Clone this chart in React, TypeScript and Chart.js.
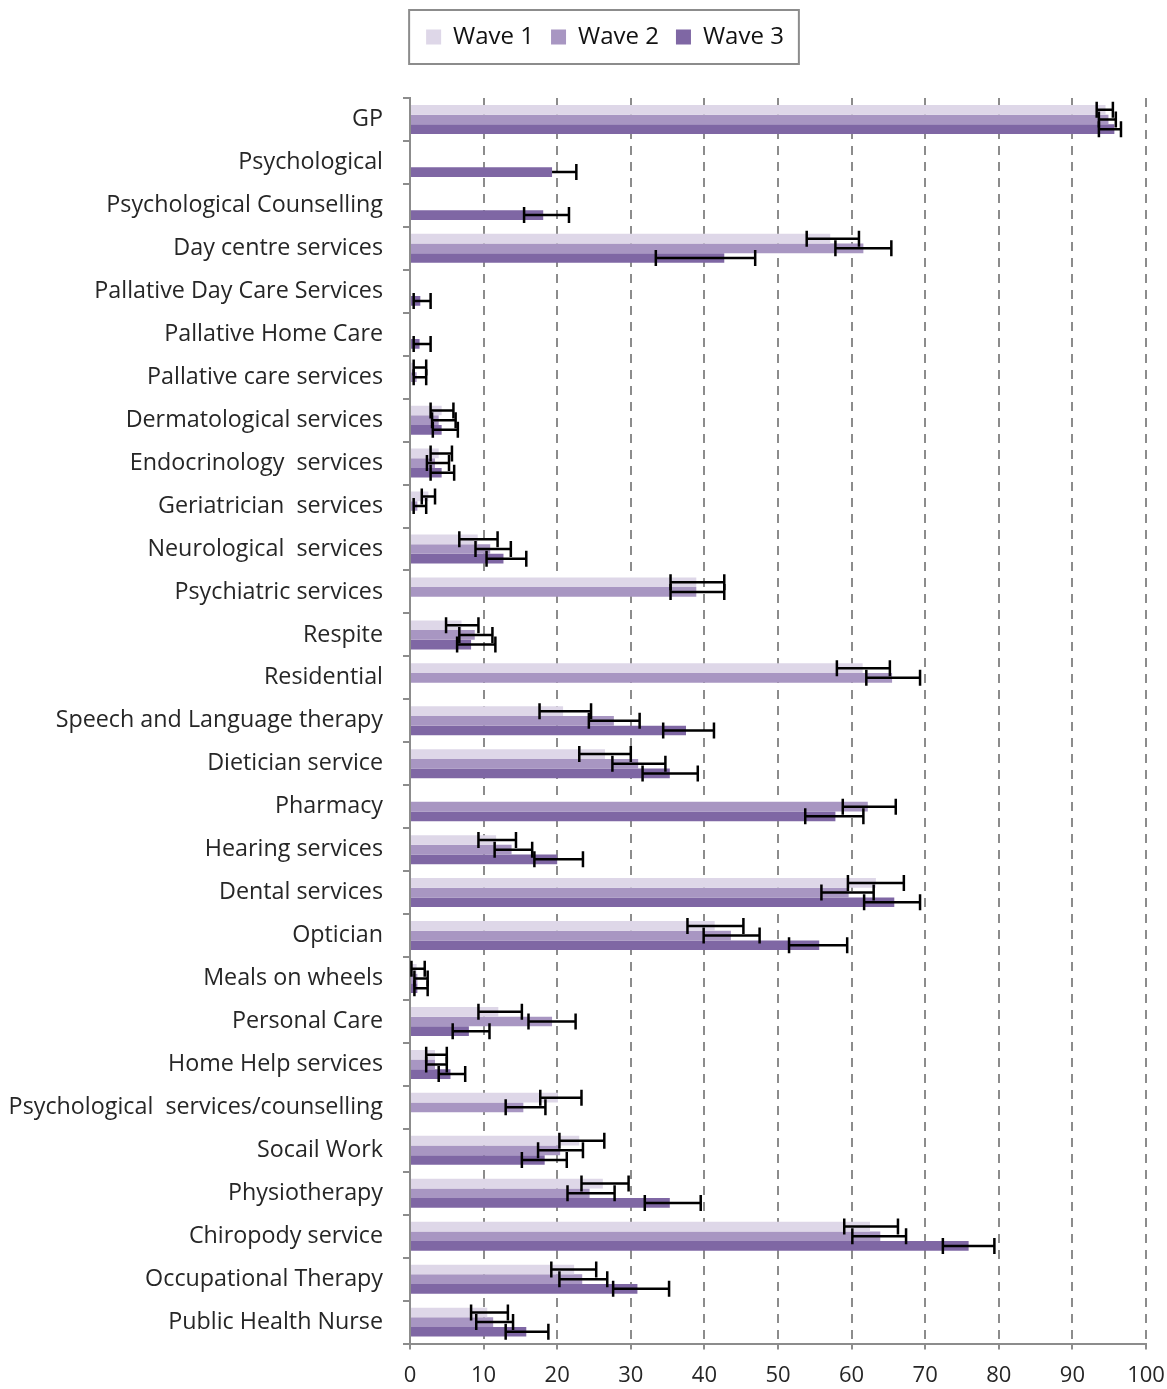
import React, { useEffect, useRef } from "react";
import { Chart, registerables } from "chart.js";

Chart.register(...registerables);

const categories = [
  "GP",
  "Psychological",
  "Psychological Counselling",
  "Day centre services",
  "Pallative Day Care Services",
  "Pallative Home Care",
  "Pallative care services",
  "Dermatological services",
  "Endocrinology  services",
  "Geriatrician  services",
  "Neurological  services",
  "Psychiatric services",
  "Respite",
  "Residential",
  "Speech and Language therapy",
  "Dietician service",
  "Pharmacy",
  "Hearing services",
  "Dental services",
  "Optician",
  "Meals on wheels",
  "Personal Care",
  "Home Help services",
  "Psychological  services/counselling",
  "Socail Work",
  "Physiotherapy",
  "Chiropody service",
  "Occupational Therapy",
  "Public Health Nurse",
];

const seriesNames = ["Wave 1", "Wave 2", "Wave 3"];

const wave1 = [94.5, null, null, 57.1, null, null, 0.6, 4.3, 3.9, 2.5, 9.2, 38.9, 7.0, 61.5, 20.8, 26.5, null, 11.7, 63.3, 41.4, 0.9, 12.0, 3.4, 20.1, 23.0, 26.2, 62.5, 22.3, 10.5];
const wave1Low = [93.3, null, null, 53.9, null, null, 0.5, 2.8, 2.8, 1.6, 6.7, 35.4, 4.9, 58.0, 17.6, 23.0, null, 9.3, 59.5, 37.7, 0.2, 9.3, 2.2, 17.7, 20.3, 23.3, 59.0, 19.2, 8.3];
const wave1High = [95.5, null, null, 61.0, null, null, 2.2, 5.9, 5.7, 3.4, 11.9, 42.7, 9.3, 65.2, 24.6, 30.0, null, 14.4, 67.1, 45.3, 2.0, 15.2, 5.0, 23.3, 26.4, 29.7, 66.3, 25.3, 13.3];

const wave2 = [94.9, null, null, 61.6, null, null, 0.9, 3.9, 3.4, 1.0, 10.9, 38.9, 8.8, 65.5, 27.7, 31.0, 62.2, 13.8, 59.6, 43.6, 1.0, 19.3, 3.4, 15.4, 20.4, 24.4, 63.9, 23.4, 11.3];
const wave2Low = [93.6, null, null, 57.8, null, null, 0.5, 3.0, 2.3, 0.5, 8.9, 35.4, 6.7, 62.0, 24.3, 27.5, 58.8, 11.5, 55.9, 39.9, 0.6, 16.1, 2.2, 13.0, 17.4, 21.4, 60.1, 20.3, 9.0];
const wave2High = [95.9, null, null, 65.4, null, null, 2.2, 6.2, 5.3, 2.2, 13.7, 42.7, 11.2, 69.3, 31.2, 34.7, 66.0, 16.6, 63.0, 47.5, 2.4, 22.5, 5.0, 18.4, 23.5, 27.8, 67.4, 26.8, 14.0];

const wave3 = [95.7, 19.3, 18.1, 42.7, 1.4, 1.3, null, 4.3, 4.3, null, 12.7, null, 8.3, null, 37.5, 35.3, 57.8, 20.0, 65.8, 55.6, 1.0, 8.0, 5.5, null, 18.3, 35.3, 75.9, 30.9, 15.8];
const wave3Low = [93.6, 19.3, 15.5, 33.4, 0.5, 0.5, null, 3.1, 2.8, null, 10.4, null, 6.4, null, 34.4, 31.6, 53.7, 16.9, 61.7, 51.5, 0.6, 5.8, 3.9, null, 15.2, 31.9, 72.4, 27.6, 13.0];
const wave3High = [96.6, 22.6, 21.6, 46.9, 2.8, 2.8, null, 6.5, 6.0, null, 15.8, null, 11.6, null, 41.3, 39.1, 61.6, 23.5, 69.3, 59.4, 2.4, 10.8, 7.5, null, 21.3, 39.5, 79.4, 35.2, 18.8];

const xMin = 0;
const xMax = 100;
const xStep = 10;

const colors = ["#ded7e8", "#a896c2", "#7f67a4"];
const FONT = "'Open Sans', 'Noto Sans', sans-serif";

const errorBarPlugin = {
  id: "errorBars",
  afterDatasetsDraw(chart: any) {
    const ctx = chart.ctx;
    const xs = chart.scales.x;
    const cap = 8;
    chart.data.datasets.forEach((ds: any, i: number) => {
      const meta = chart.getDatasetMeta(i);
      if (meta.hidden) return;
      meta.data.forEach((el: any, j: number) => {
        const v = ds.data[j];
        const lo = ds.errLow[j];
        const hi = ds.errHigh[j];
        if (v == null || lo == null || hi == null) return;
        const y = el.y;
        const x1 = xs.getPixelForValue(lo);
        const x2 = xs.getPixelForValue(hi);
        ctx.save();
        ctx.strokeStyle = "#000";
        ctx.lineWidth = 2.5;
        ctx.beginPath();
        ctx.moveTo(x1, y);
        ctx.lineTo(x2, y);
        if (lo < v) {
          ctx.moveTo(x1, y - cap);
          ctx.lineTo(x1, y + cap);
        }
        ctx.moveTo(x2, y - cap);
        ctx.lineTo(x2, y + cap);
        ctx.stroke();
        ctx.restore();
      });
    });
  },
};

const legendSpacing = {
  id: "legendSpacing",
  beforeInit(chart: any) {
    const lg = chart.legend;
    if (!lg) return;
    const fit = lg.fit;
    lg.fit = function () {
      fit.call(this);
      this.height += 39;
    };
  },
  afterLayout(chart: any) {
    const lg = chart.legend;
    if (!lg) return;
    const dx = 605 - (lg.left + lg.right) / 2;
    lg.left += dx;
    lg.right += dx;
  },
};

const legendBorder = {
  id: "legendBorder",
  afterDraw(chart: any) {
    const lg = chart.legend;
    if (!lg || !lg.legendHitBoxes || !lg.legendHitBoxes.length) return;
    const boxes = lg.legendHitBoxes;
    let l = Infinity, r = -Infinity, t = Infinity, b = -Infinity;
    boxes.forEach((h: any) => {
      l = Math.min(l, h.left);
      r = Math.max(r, h.left + h.width);
      t = Math.min(t, h.top);
      b = Math.max(b, h.top + h.height);
    });
    const cy = (t + b) / 2;
    const ctx = chart.ctx;
    ctx.save();
    ctx.strokeStyle = "#8c8c8c";
    ctx.lineWidth = 2;
    ctx.strokeRect(l - 17, cy - 27, r - l + 32, 54);
    ctx.restore();
  },
};

export default function App() {
  const ref = useRef<HTMLCanvasElement | null>(null);
  useEffect(() => {
    document.body.style.margin = "0";
    if (!ref.current) return;
    const lows = [wave1Low, wave2Low, wave3Low];
    const highs = [wave1High, wave2High, wave3High];
    const chart = new Chart(ref.current, {
      type: "bar",
      data: {
        labels: categories,
        datasets: [wave1, wave2, wave3].map((d, i) => ({
          label: seriesNames[i],
          data: d,
          backgroundColor: colors[i],
          borderWidth: 0,
          categoryPercentage: 0.675,
          barPercentage: 1.0,
          errLow: lows[i],
          errHigh: highs[i],
        })) as any,
      },
      options: {
        indexAxis: "y",
        animation: false,
        responsive: false,
        layout: { padding: { left: 0, right: 8, top: 8, bottom: -13 } },
        plugins: {
          legend: {
            position: "top",
            labels: {
              boxWidth: 15,
              boxHeight: 15,
              padding: 17,
              color: "#111",
              font: { family: FONT, size: 24 },
            },
          },
          tooltip: { enabled: false },
        },
        scales: {
          x: {
            min: xMin,
            max: xMax,
            ticks: {
              stepSize: xStep,
              color: "#262626",
              padding: 13,
              font: { family: FONT, size: 22 },
            },
            grid: {
              color: "#8c8c8c",
              lineWidth: 2,
              tickLength: 6,
              tickColor: "#8c8c8c",
              tickBorderDash: [],
            },
            border: { color: "#8c8c8c", width: 2, dash: [9, 7] },
            afterFit(scale: any) {
              scale.paddingRight = 21;
            },
          },
          y: {
            ticks: {
              color: "#262626",
              padding: 20,
              font: { family: FONT, size: 23.3 },
              autoSkip: false,
            },
            grid: {
              drawOnChartArea: false,
              offset: true,
              color: "#8c8c8c",
              lineWidth: 2,
              tickLength: 7,
            },
            border: { color: "#8c8c8c", width: 2 },
            afterFit(scale: any) {
              scale.width = 410;
            },
          },
        },
      } as any,
      plugins: [errorBarPlugin, legendSpacing, legendBorder],
    });
    return () => chart.destroy();
  }, []);
  return <canvas ref={ref} width={1167} height={1389} style={{ display: "block" }} />;
}
